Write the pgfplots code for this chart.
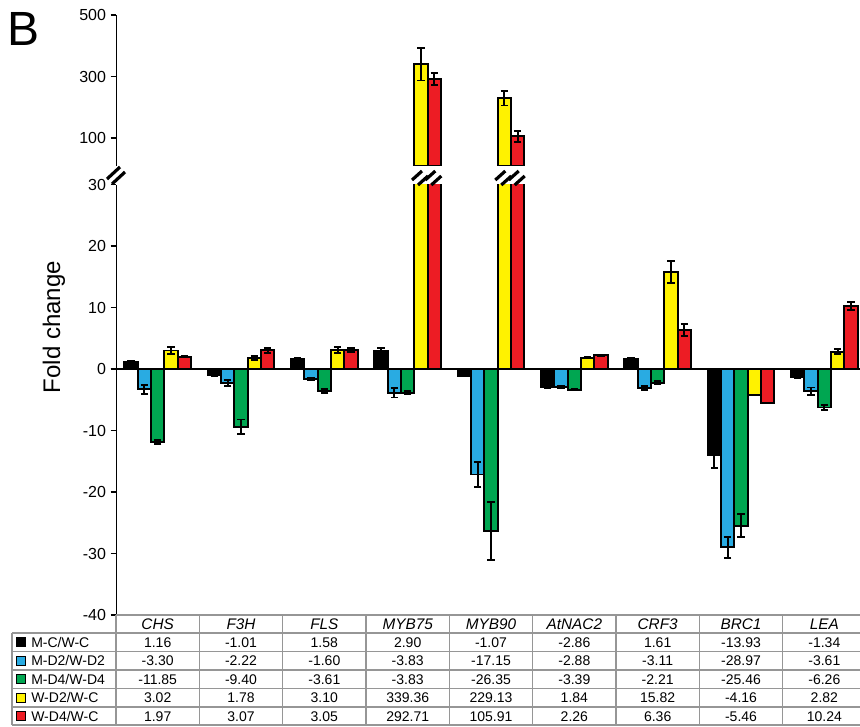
\documentclass[border=0pt]{standalone}
\usepackage{fontspec}
\setmainfont{Liberation Sans}
\usepackage{pgfplots}
\pgfplotsset{compat=1.18}
\definecolor{cblue}{RGB}{41,171,226}
\definecolor{cgreen}{RGB}{0,166,81}
\definecolor{cyellow}{RGB}{255,242,0}
\definecolor{cred}{RGB}{237,28,36}
\definecolor{tgrid}{RGB}{150,150,150}
\begin{document}
\begin{tikzpicture}
\useasboundingbox (0,0) rectangle (645pt,-544.5pt);
\pgfplotsset{
  common/.style={
    scale only axis, width=562.5pt, xmin=-0.5, xmax=8.5,
    /pgf/number format/assume math mode=true,
    tick label style={font=\fontsize{12}{14}\selectfont},
    axis y line=left, axis x line=none,
    axis line style={-, line width=1.3pt, black},
    y axis line style={-},
    every outer y axis line/.style={-},
    ytick style={black, line width=1pt},
    major tick length=4pt, tick align=outside,
    xtick=\empty,
  },
  barplot/.style={ybar, bar width=0.16, bar shift=0, draw=black, line width=1.4pt,
    error bars/y dir=both, error bars/y explicit,
    error bars/error bar style={black, line width=1.4pt},
    error bars/error mark options={black, line width=1.4pt, mark size=2.8pt, rotate=90}},
}
% lower axis
\begin{axis}[common, at={(87pt,-461.25pt)}, anchor=south west, height=322.875pt,
  ymin=-40, ymax=30, ytick={-40,-30,...,30},
  extra y ticks={0}, extra y tick labels={},
  extra y tick style={grid=major, major grid style={black, line width=1.4pt}}]
% M-C/W-C (offset -0.32)
\addplot[barplot, fill=black] coordinates {
 (-0.32,1.16) +- (0,0.2) (0.68,-1.01) +- (0,0.15) (1.68,1.58) +- (0,0.2) (2.68,2.90) +- (0,0.5)
 (3.68,-1.07) +- (0,0.15) (4.68,-2.86) +- (0,0.2) (5.68,1.61) +- (0,0.2) (6.68,-13.93) +- (0,2.2) (7.68,-1.34) +- (0,0.1)};
% M-D2/W-D2 (offset -0.16)
\addplot[barplot, fill=cblue] coordinates {
 (-0.16,-3.30) +- (0,0.7) (0.84,-2.22) +- (0,0.5) (1.84,-1.60) +- (0,0.2) (2.84,-3.83) +- (0,0.8)
 (3.84,-17.15) +- (0,2.1) (4.84,-2.88) +- (0,0.2) (5.84,-3.11) +- (0,0.3) (6.84,-28.97) +- (0,1.7) (7.84,-3.61) +- (0,0.6)};
% M-D4/W-D4 (offset 0)
\addplot[barplot, fill=cgreen] coordinates {
 (0,-11.85) +- (0,0.3) (1,-9.40) +- (0,1.2) (2,-3.61) +- (0,0.3) (3,-3.83) +- (0,0.3)
 (4,-26.35) +- (0,4.7) (5,-3.39) +- (0,0.1) (6,-2.21) +- (0,0.3) (7,-25.46) +- (0,1.9) (8,-6.26) +- (0,0.4)};
% W-D2/W-C (offset +0.16)
\addplot[barplot, fill=cyellow] coordinates {
 (0.16,3.02) +- (0,0.6) (1.16,1.78) +- (0,0.3) (2.16,3.10) +- (0,0.5) (3.16,339.36) +- (0,0)
 (4.16,229.13) +- (0,0) (5.16,1.84) +- (0,0.1) (6.16,15.82) +- (0,1.8) (7.16,-4.16) +- (0,0) (8.16,2.82) +- (0,0.4)};
% W-D4/W-C (offset +0.32)
\addplot[barplot, fill=cred] coordinates {
 (0.32,1.97) +- (0,0.1) (1.32,3.07) +- (0,0.4) (2.32,3.05) +- (0,0.3) (3.32,292.71) +- (0,0)
 (4.32,105.91) +- (0,0) (5.32,2.26) +- (0,0.1) (6.32,6.36) +- (0,1.0) (7.32,-5.46) +- (0,0) (8.32,10.24) +- (0,0.7)};
\end{axis}
% upper axis
\begin{axis}[common, at={(87pt,-124.4pt)}, anchor=south west, height=113.2pt,
  ymin=10, ymax=500, ytick={100,300,500}]
\addplot[barplot, fill=cyellow] coordinates {(3.16,339.36) +- (0,52) (4.16,229.13) +- (0,23)};
\addplot[barplot, fill=cred] coordinates {(3.32,292.71) +- (0,20) (4.32,105.91) +- (0,18)};
\end{axis}
\begin{scope}[x=0.75pt,y=-0.75pt]
  % title letter and y label
  \node[anchor=base west, inner sep=0, font=\fontsize{36}{40}\selectfont] at (7,45) {B};
  \node[rotate=90, font=\fontsize{18}{20}\selectfont] at (54,327) {Fold change};
  % axis break marks
  \draw[line width=2.4pt] (107,179) -- (120,167);
  \draw[line width=2.4pt] (112,184) -- (125,172);
  \foreach \cx in {421,434.3,504.3,517.7}{
    \draw[line width=2.4pt] (\cx-9,180) -- (\cx+1,171);
    \draw[line width=2.4pt] (\cx-3,185) -- (\cx+7,176);
  }
  % table grid
  \draw[tgrid, line width=1.2pt] (116,615) -- (870,615);
  \foreach \yy in {633,651.5,670,688.5,707,725}
    \draw[tgrid, line width=1.2pt] (12,\yy) -- (870,\yy);
  \draw[tgrid, line width=1.2pt] (12,633) -- (12,725);
  \foreach \k in {0,...,9}
    \draw[tgrid, line width=1.2pt] (116+83.333*\k,615) -- (116+83.333*\k,725);
  % header
  \foreach \name [count=\i from 0] in {CHS,F3H,FLS,MYB75,MYB90,AtNAC2,CRF3,BRC1,LEA}
    \node[font=\itshape\fontsize{11.5}{13}\selectfont] at (157.67+83.333*\i,624.5) {\name};
  % legend column
  \foreach \lab/\col/\yy in {M-C\slash W-C/black/642.25, M-D2\slash W-D2/cblue/660.75,
      M-D4\slash W-D4/cgreen/679.25, W-D2\slash W-C/cyellow/697.75, W-D4\slash W-C/cred/716.25}{
    \node[draw=black, fill=\col, line width=0.7pt, minimum size=6.5pt, inner sep=0] at (21,\yy) {};
    \node[anchor=west, inner sep=0, font=\fontsize{10.5}{12}\selectfont] at (31,\yy) {\lab};
  }
  % values
  \foreach \v [count=\i from 0] in {1.16,-1.01,1.58,2.90,-1.07,-2.86,1.61,-13.93,-1.34}
    \node[font=\fontsize{10.5}{12}\selectfont] at (157.67+83.333*\i,642.25) {\v};
  \foreach \v [count=\i from 0] in {-3.30,-2.22,-1.60,-3.83,-17.15,-2.88,-3.11,-28.97,-3.61}
    \node[font=\fontsize{10.5}{12}\selectfont] at (157.67+83.333*\i,660.75) {\v};
  \foreach \v [count=\i from 0] in {-11.85,-9.40,-3.61,-3.83,-26.35,-3.39,-2.21,-25.46,-6.26}
    \node[font=\fontsize{10.5}{12}\selectfont] at (157.67+83.333*\i,679.25) {\v};
  \foreach \v [count=\i from 0] in {3.02,1.78,3.10,339.36,229.13,1.84,15.82,-4.16,2.82}
    \node[font=\fontsize{10.5}{12}\selectfont] at (157.67+83.333*\i,697.75) {\v};
  \foreach \v [count=\i from 0] in {1.97,3.07,3.05,292.71,105.91,2.26,6.36,-5.46,10.24}
    \node[font=\fontsize{10.5}{12}\selectfont] at (157.67+83.333*\i,716.25) {\v};
\end{scope}
\end{tikzpicture}
\end{document}
